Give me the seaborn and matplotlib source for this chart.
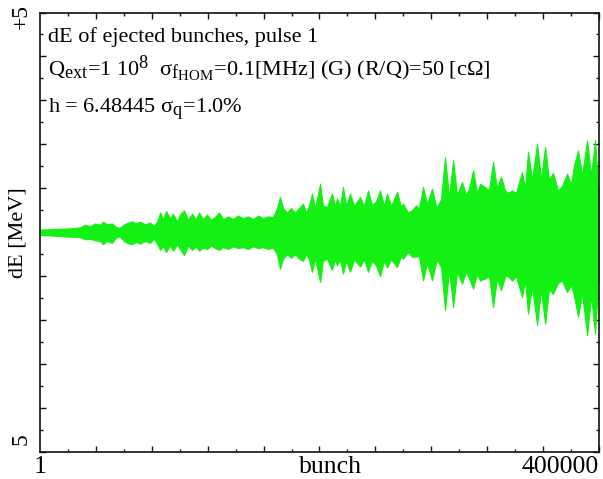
import numpy as np
import pandas as pd
import matplotlib
matplotlib.use("Agg")
import matplotlib.pyplot as plt
import matplotlib._mathtext as mathtext_impl
from matplotlib.ticker import MultipleLocator
import seaborn as sns

# Bunch index (in thousands) where the envelope of dE was sampled
bunch_k = [0, 7.2, 14.3, 21.5, 28.6, 32.2, 35.8, 39.4, 42.9, 45.1, 47.9, 51.5,
           54.4, 57.2, 60.1, 63.0, 65.8, 68.7, 71.6, 75.1, 78.7, 81.6, 84.4,
           85.9, 88.0, 90.2, 93.0, 95.2, 98.0, 100.2, 103.0, 105.9, 108.8,
           111.6, 113.8, 116.6, 119.5, 122.4, 125.2, 128.1, 131.0, 134.5,
           138.1, 141.7, 145.3, 148.8, 152.4, 156.0, 159.6, 163.2, 166.7,
           169.6, 171.7, 173.9, 176.8, 179.6, 182.5, 185.3, 188.2, 190.4,
           192.5, 194.6, 196.8, 200.4, 202.5, 205.4, 208.9, 211.1, 212.5,
           214.7, 216.8, 219.0, 221.8, 224.7, 229.0, 231.9, 234.7, 237.6,
           240.4, 243.3, 246.2, 248.3, 251.2, 255.5, 258.3, 259.8, 263.3,
           266.2, 269.1, 271.2, 274.1, 276.9, 280.5, 283.4, 284.1, 287.0,
           289.8, 292.7, 295.6, 298.4, 302.0, 304.8, 307.0, 309.9, 312.7,
           314.9, 318.4, 321.3, 324.2, 327.0, 329.9, 332.8, 334.9, 337.8,
           340.6, 344.9, 347.1, 349.2, 352.1, 355.7, 358.5, 361.4, 364.2,
           367.1, 370.7, 373.5, 377.1, 380.0, 382.1, 385.0, 387.9, 391.5,
           394.3, 397.2, 399.3, 400.0]

# Positive excursion of dE [MeV] at each sampled bunch
de_upper = [0.06, 0.07, 0.08, 0.09, 0.11, 0.17, 0.14, 0.20, 0.17, 0.24, 0.18,
            0.20, 0.12, 0.10, 0.18, 0.22, 0.25, 0.20, 0.24, 0.18, 0.22, 0.14,
            0.28, 0.45, 0.30, 0.48, 0.32, 0.42, 0.25, 0.40, 0.50, 0.28, 0.42,
            0.30, 0.45, 0.30, 0.40, 0.28, 0.35, 0.45, 0.30, 0.36, 0.30, 0.38,
            0.32, 0.36, 0.30, 0.38, 0.32, 0.36, 0.34, 0.55, 0.80, 0.55, 0.45,
            0.55, 0.45, 0.55, 0.65, 0.45, 0.60, 0.88, 0.55, 1.10, 0.60, 0.58,
            0.88, 0.60, 0.77, 0.60, 1.03, 0.60, 0.88, 0.60, 0.80, 0.60, 0.95,
            0.62, 0.70, 0.95, 0.60, 0.88, 0.60, 0.92, 0.58, 0.65, 0.45, 0.50,
            0.61, 0.55, 1.03, 0.65, 0.99, 0.60, 0.58, 0.75, 1.71, 0.80, 1.64,
            0.85, 1.14, 0.85, 1.00, 1.41, 0.90, 1.10, 1.03, 0.95, 1.60, 1.00,
            1.26, 0.95, 0.90, 0.95, 0.90, 1.37, 1.00, 1.83, 1.20, 2.02, 1.20,
            1.94, 1.20, 1.35, 0.95, 1.05, 1.33, 1.10, 1.52, 1.86, 1.30, 2.09,
            1.30, 2.10, 1.03, 1.00]

# Negative excursion of dE [MeV] (magnitude) at each sampled bunch
de_lower = [0.06, 0.07, 0.09, 0.10, 0.11, 0.16, 0.15, 0.18, 0.20, 0.27, 0.20,
            0.24, 0.12, 0.10, 0.20, 0.25, 0.27, 0.22, 0.26, 0.20, 0.24, 0.15,
            0.30, 0.40, 0.32, 0.45, 0.30, 0.42, 0.28, 0.38, 0.52, 0.30, 0.40,
            0.32, 0.42, 0.35, 0.38, 0.30, 0.36, 0.40, 0.34, 0.38, 0.32, 0.36,
            0.34, 0.38, 0.32, 0.36, 0.34, 0.38, 0.35, 0.50, 0.83, 0.60, 0.50,
            0.58, 0.50, 0.60, 0.65, 0.50, 0.62, 0.90, 0.60, 1.13, 0.65, 0.60,
            0.86, 0.62, 0.75, 0.62, 0.94, 0.65, 0.90, 0.62, 0.78, 0.62, 0.90,
            0.65, 0.75, 1.00, 0.65, 0.80, 0.62, 0.79, 0.55, 0.60, 0.45, 0.56,
            0.55, 0.55, 1.09, 0.70, 1.09, 0.70, 0.62, 0.80, 1.77, 0.85, 1.70,
            0.90, 1.17, 0.90, 1.05, 1.28, 0.95, 1.10, 1.05, 1.00, 1.70, 1.05,
            1.32, 1.00, 1.00, 1.10, 1.00, 1.47, 1.10, 1.85, 1.25, 2.11, 1.30,
            2.08, 1.30, 1.40, 1.15, 1.10, 1.36, 1.20, 1.45, 1.92, 1.40, 2.34,
            1.45, 2.30, 1.20, 1.10]

title_lines = [
    "dE of ejected bunches, pulse 1",
    r"Q$_{\rm ext}$=1 10$^{8}$  σ$_{{\rm f}_{\rm HOM}}$=0.1[MHz] (G) (R/Q)=50 [cΩ]",
    r"h = 6.48445 σ$_{\rm q}$=1.0%",
]

sns.set_theme(style="ticks")
plt.rcParams["font.family"] = ["Liberation Serif", "DejaVu Serif"]
plt.rcParams["text.color"] = "black"
plt.rcParams["mathtext.fontset"] = "custom"
plt.rcParams["mathtext.rm"] = "Liberation Serif"
plt.rcParams["mathtext.it"] = "Liberation Serif:italic"
plt.rcParams["mathtext.bf"] = "Liberation Serif:bold"
# larger sub/superscripts than the mathtext default
mathtext_impl.SHRINK_FACTOR = 0.82

bunch = np.array(bunch_k) * 1000.0
df = pd.concat([
    pd.DataFrame({"bunch": bunch, "dE": np.array(de_upper)}),
    pd.DataFrame({"bunch": bunch, "dE": -np.array(de_lower)}),
], ignore_index=True)

green = "#14f014"

fig = plt.figure(figsize=(6.03, 4.79), dpi=100)
ax = fig.add_axes([40 / 603, 27 / 479, 559 / 603, 439.5 / 479])

sns.lineplot(data=df, x="bunch", y="dE", estimator="mean",
             errorbar=lambda v: (v.min(), v.max()),
             color=green, linewidth=0.6, ax=ax,
             err_kws={"alpha": 1.0, "linewidth": 0.8, "edgecolor": green})

ax.set_xlim(1, 400000)
ax.set_ylim(-5, 5)

ax.xaxis.set_major_locator(MultipleLocator(40000))
ax.xaxis.set_minor_locator(MultipleLocator(20000))
ax.yaxis.set_major_locator(MultipleLocator(1))
ax.yaxis.set_minor_locator(MultipleLocator(0.5))
ax.tick_params(which="both", direction="in", top=True, right=True,
               color="#111111", labelbottom=False, labelleft=False)
ax.tick_params(which="major", length=4, width=1.0)
ax.tick_params(which="minor", length=2.5, width=1.0)
for s in ax.spines.values():
    s.set_color("#111111")
    s.set_linewidth(1.2)

ax.set_xlabel("")
ax.set_ylabel("")

fs = 16
fs_x = 18.5
# axis end labels and axis names
ax.text(0.0, -0.008, "1", transform=ax.transAxes, ha="center", va="top", fontsize=fs_x)
ax.text(1.0, -0.008, "400000", transform=ax.transAxes, ha="right", va="top", fontsize=fs_x)
ax.text(0.519, -0.008, "bunch", transform=ax.transAxes, ha="center", va="top", fontsize=fs_x)
ax.text(-0.033, 0.99, "+5", transform=ax.transAxes, ha="center", va="center",
        rotation=90, fontsize=17)
ax.text(-0.033, 0.03, "5", transform=ax.transAxes, ha="center", va="center",
        rotation=90, fontsize=17)
ax.text(-0.022, 0.5, "dE [MeV]", transform=ax.transAxes, ha="right", va="center",
        rotation=90, fontsize=fs)

ys = [0.933, 0.858, 0.774]
for t, y in zip(title_lines, ys):
    ax.text(0.014, y, t, transform=ax.transAxes, ha="left", va="baseline", fontsize=fs)

fig.savefig("out.png", dpi=100)
